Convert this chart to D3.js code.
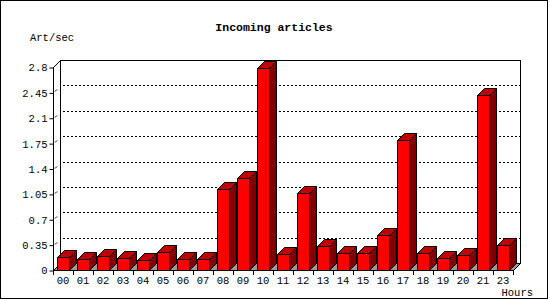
<!DOCTYPE html>
<html><head><meta charset="utf-8">
<script src="https://cdn.jsdelivr.net/npm/d3@7"></script>
<style>html,body{margin:0;padding:0;background:#fff;}svg{display:block;}text{fill:#000;}</style>
</head><body>
<script>
const hours = ["00","01","02","03","04","05","06","07","08","09","10","11","12","13","14","15","16","17","18","19","20","21","23"];
const values = [0.175,0.147,0.189,0.161,0.133,0.244,0.147,0.147,1.113,1.264,2.78,0.216,1.057,0.327,0.23,0.23,0.478,1.793,0.23,0.161,0.203,2.41,0.34];
const yTicks = [0,0.35,0.7,1.05,1.4,1.75,2.1,2.45,2.8];
const yTickLabels = ["0","0.35","0.7","1.05","1.4","1.75","2.1","2.45","2.8"];

const W=550,H=300, D=7;
const svg=d3.select("body").append("svg").attr("width",W).attr("height",H);
const x=d3.scaleBand().domain(hours).range([53,513]).padding(0);
const y=d3.scaleLinear().domain([0,2.8]).range([270,67]);
const font="'Liberation Mono','DejaVu Sans Mono',monospace";

svg.append("rect").attr("x",0.5).attr("y",0.5).attr("width",547).attr("height",298).attr("fill","#fff").attr("stroke","#000");

// back wall
const y0=y(0);
svg.append("rect").attr("x",60.5).attr("y",60.5).attr("width",460).attr("height",y0-D-60).attr("fill","#fff").attr("stroke","#000");
// floor
svg.append("path").attr("d",`M53.5,${y0+0.5}L513.5,${y0+0.5}L520.5,${y0-D+0.5}L60.5,${y0-D+0.5}Z`).attr("fill","#999").attr("stroke","#000");
// gridlines on back wall
yTicks.slice(1,-1).forEach(t=>{
  const yy=Math.round(y(t))-D+0.5;
  svg.append("line").attr("x1",63).attr("x2",520).attr("y1",yy).attr("y2",yy).attr("stroke","#000").attr("stroke-dasharray","2,2");
  svg.append("line").attr("x1",55).attr("x2",57).attr("y1",yy+D-1).attr("y2",yy+D-3).attr("stroke","#000");
});
// front y axis
svg.append("line").attr("x1",53.5).attr("x2",53.5).attr("y1",y(2.8)).attr("y2",y0+0.5).attr("stroke","#000");
svg.append("line").attr("x1",53.5).attr("x2",60.5).attr("y1",y(2.8)+0.5).attr("y2",60.5).attr("stroke","#000");
const ya=svg.append("g").attr("transform","translate(53.5,0.5)").call(d3.axisLeft(y).tickValues(yTicks).tickFormat((d,i)=>yTickLabels[i]).tickSize(4).tickPadding(2));
ya.select(".domain").remove();
ya.selectAll("text").attr("font-family",font).attr("font-size","10.5px").attr("fill","#000");
ya.selectAll("line").attr("stroke","#000");
// x ticks
hours.forEach((h,i)=>{
  const xx=Math.round(x(h))+0.5;
  svg.append("line").attr("x1",xx).attr("x2",xx).attr("y1",y0).attr("y2",y0+5).attr("stroke","#000");
  svg.append("text").attr("x",x(h)+x.bandwidth()/2).attr("y",y0+14).attr("text-anchor","middle").attr("font-family",font).attr("font-size","10.5px").attr("fill","#000").text(h);
});
svg.append("line").attr("x1",513.5).attr("x2",513.5).attr("y1",y0).attr("y2",y0+5).attr("stroke","#000");

// bars
const bw=x.bandwidth();
hours.forEach((h,i)=>{
  const x0=Math.round(x(h)+bw*0.2)+0.5, w=12;
  const yt=Math.round(y(values[i]))+0.5, yb=y0+0.5;
  const g=svg.append("g").attr("stroke","#000").attr("stroke-width",1);
  g.append("path").attr("d",`M${x0+w},${yt}L${x0+w+D},${yt-D}L${x0+w+D},${yb-D}L${x0+w},${yb}Z`).attr("fill","#800000");
  g.append("path").attr("d",`M${x0},${yt}L${x0+D},${yt-D}L${x0+w+D},${yt-D}L${x0+w},${yt}Z`).attr("fill","#c00000");
  g.append("rect").attr("x",x0).attr("y",yt).attr("width",w).attr("height",yb-yt).attr("fill","#ff0000");
});

// texts
svg.append("text").attr("x",274).attr("y",31).attr("text-anchor","middle").attr("font-family",font).attr("font-weight","bold").attr("font-size","11.5px").attr("fill","#000").text("Incoming articles");
svg.append("text").attr("x",30).attr("y",41).attr("font-family",font).attr("font-size","10.5px").attr("fill","#000").text("Art/sec");
svg.append("text").attr("x",533).attr("y",296).attr("text-anchor","end").attr("font-family",font).attr("font-size","10.5px").attr("fill","#000").text("Hours");
</script>
</body></html>
